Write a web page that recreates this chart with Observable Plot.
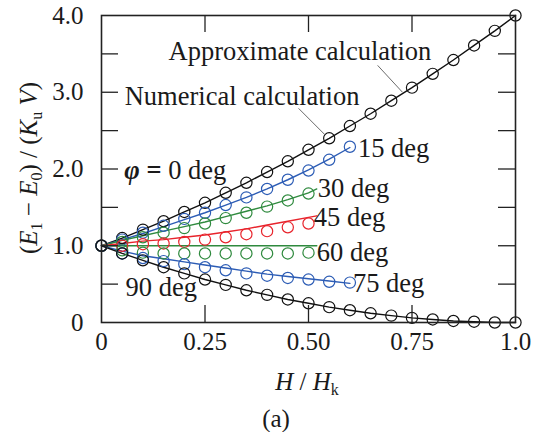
<!DOCTYPE html>
<html><head><meta charset="utf-8">
<script src="https://cdn.jsdelivr.net/npm/d3@7"></script>
<script src="https://cdn.jsdelivr.net/npm/@observablehq/plot@0.6"></script>
<style>body{margin:0;background:#fff} svg text, svg tspan {font-family: "Liberation Serif", "Times New Roman", Times, Tinos, "Nimbus Roman", "Nimbus Roman No9 L", "Noto Serif", "DejaVu Serif", FreeSerif, Georgia, serif;}</style>
</head><body><div id="chart"></div>
<script>
// ---- field values H/Hk ----
const hFull = [0,0.05,0.1,0.15,0.2,0.25,0.3,0.35,0.4,0.45,0.5,0.55,0.6,0.65,0.7,0.75,0.8,0.85,0.9,0.95,1.0];
const hTo060 = [0,0.05,0.1,0.15,0.2,0.25,0.3,0.35,0.4,0.45,0.5,0.55,0.6];
const hTo050 = [0,0.05,0.1,0.15,0.2,0.25,0.3,0.35,0.4,0.45,0.5];
const hLineTo052 = [0,0.05,0.1,0.15,0.2,0.25,0.3,0.35,0.4,0.45,0.5,0.52];

// ---- numerical calculation (circles) ----
const num0  = [1.00,1.10,1.21,1.32,1.44,1.56,1.69,1.82,1.96,2.10,2.25,2.40,2.56,2.72,2.89,3.06,3.24,3.42,3.61,3.80,4.00];
const num15 = [1.00,1.08,1.17,1.26,1.35,1.43,1.53,1.63,1.74,1.86,1.98,2.12,2.29];
const num30 = [1.00,1.05,1.11,1.17,1.23,1.29,1.36,1.43,1.51,1.59,1.68];
const num45 = [1.00,1.00,1.02,1.03,1.05,1.08,1.11,1.15,1.19,1.24,1.29];
const num60 = [1.00,0.94,0.91,0.90,0.90,0.90,0.90,0.90,0.90,0.90,0.91];
const num75 = [1.00,0.90,0.84,0.80,0.76,0.72,0.68,0.64,0.61,0.58,0.56,0.53,0.52];
const num90 = [1.00,0.90,0.81,0.72,0.64,0.56,0.49,0.42,0.36,0.30,0.25,0.20,0.16,0.12,0.09,0.06,0.04,0.02,0.01,0.00,0.00];

// ---- approximate calculation (lines) ----
const apx0  = [1.00,1.10,1.21,1.32,1.44,1.56,1.69,1.82,1.96,2.10,2.25,2.40,2.56,2.72,2.89,3.06,3.24,3.42,3.61,3.80,4.00];
const apx15 = [1.00,1.08,1.16,1.25,1.34,1.43,1.53,1.63,1.74,1.86,1.99,2.13,2.28];
const apx30 = [1.00,1.07,1.13,1.19,1.25,1.31,1.38,1.45,1.52,1.60,1.69,1.74];
const apx45 = [1.00,1.03,1.06,1.08,1.11,1.14,1.18,1.22,1.27,1.32,1.37,1.39];
const apx60 = [1.00,1.00,1.00,1.00,1.00,1.00,1.00,1.00,1.00,1.00,1.00,1.00];
const apx75 = [1.00,0.93,0.87,0.83,0.79,0.75,0.71,0.67,0.63,0.60,0.57,0.54,0.51];
const apx90 = [1.00,0.90,0.81,0.72,0.64,0.56,0.49,0.42,0.36,0.30,0.25,0.20,0.16,0.12,0.09,0.06,0.04,0.02,0.01,0.00,0.00];

// ---- ticks ----
const xTicks = [0,0.25,0.5,0.75,1.0];
const xTickLabels = ["0","0.25","0.50","0.75","1.0"];
const yTicks = [0,1,2,3,4];
const yTickLabels = ["0","1.0","2.0","3.0","4.0"];
const xTickMarks = [0.25,0.5,0.75];
const yTickMarks = [0.5,1,1.5,2,2.5,3,3.5];

const BLACK = "#111", BLUE = "#2c5cb5", GREEN = "#2f8a3e", RED = "#e8242c";

const series = [
  {name:"0",  color:BLACK, hn:hFull,  num:num0,  ha:hFull,      apx:apx0},
  {name:"15", color:BLUE,  hn:hTo060, num:num15, ha:hTo060,     apx:apx15},
  {name:"30", color:GREEN, hn:hTo050, num:num30, ha:hLineTo052, apx:apx30},
  {name:"45", color:RED,   hn:hTo050, num:num45, ha:hLineTo052, apx:apx45},
  {name:"60", color:GREEN, hn:hTo050, num:num60, ha:hLineTo052, apx:apx60},
  {name:"75", color:BLUE,  hn:hTo060, num:num75, ha:hTo060,     apx:apx75},
  {name:"90", color:BLACK, hn:hFull,  num:num90, ha:hFull,      apx:apx90}
];
const pts = series.flatMap(s => s.num.map((E,i)=>({h:s.hn[i], E, s:s.name, c:s.color})));
const lns = series.flatMap(s => s.apx.map((E,i)=>({h:s.ha[i], E, s:s.name, c:s.color})));
const last = (hs, es) => ({h: hs[hs.length-1], E: es[es.length-1]});

const FS = 25, FA = 26.5;
const PW = 414, PH = 307, TL = 17;

const chart = Plot.plot({
  width: 539, height: 432,
  marginLeft: 101, marginRight: 24, marginTop: 15, marginBottom: 110,
  style: {fontSize: FS + "px", color: "#1a1a1a", background: "#fff"},
  x: {domain: [0,1]},
  y: {domain: [0,4]},
  marks: [
    Plot.line(lns, {x:"h", y:"E", z:"s", stroke:"c", strokeWidth:1.4}),
    Plot.dot(pts, {x:"h", y:"E", stroke:"c", r:5.6, fill:"none", strokeWidth:1.2}),
    Plot.tickX(xTickMarks, {x:d=>d, insetTop: PH-TL, stroke:"#222", strokeWidth:1.3}),
    Plot.tickX(xTickMarks, {x:d=>d, insetBottom: PH-TL, stroke:"#222", strokeWidth:1.3}),
    Plot.tickY(yTickMarks, {y:d=>d, insetRight: PW-TL, stroke:"#222", strokeWidth:1.3}),
    Plot.tickY(yTickMarks, {y:d=>d, insetLeft: PW-TL, stroke:"#222", strokeWidth:1.3}),
    Plot.frame({stroke:"#222", strokeWidth:1.6}),
    Plot.axisX({ticks:xTicks, tickSize:0, tickPadding:10, fontSize:FS, label:null,
      tickFormat: d => xTickLabels[xTicks.indexOf(d)]}),
    Plot.axisY({ticks:yTicks, tickSize:0, tickPadding:18, fontSize:FS, label:null,
      tickFormat: d => yTickLabels[yTicks.indexOf(d)]}),
    Plot.text([last(hTo060, num15)], {x:"h", y:"E", text:()=>"15 deg", textAnchor:"start", dx:8, dy:2, fontSize:FA}),
    Plot.text([last(hLineTo052, apx30)], {x:"h", y:"E", text:()=>"30 deg", textAnchor:"start", dx:1, dy:0, fontSize:FA}),
    Plot.text([last(hLineTo052, apx45)], {x:"h", y:"E", text:()=>"45 deg", textAnchor:"start", dx:-3, dy:2, fontSize:FA}),
    Plot.text([last(hLineTo052, apx60)], {x:"h", y:"E", text:()=>"60 deg", textAnchor:"start", dx:0, dy:7, fontSize:FA}),
    Plot.text([last(hTo060, num75)], {x:"h", y:"E", text:()=>"75 deg", textAnchor:"start", dx:3, dy:1, fontSize:FA}),
    Plot.text(["φ = 0 deg"], {x:0.055, y:1.98, text:d=>d, textAnchor:"start", fontSize:FA}),
    Plot.text(["90 deg"], {x:0.058, y:0.46, text:d=>d, textAnchor:"start", fontSize:FA}),
    Plot.text(["Approximate calculation"], {x:0.162, y:3.53, text:d=>d, textAnchor:"start", fontSize:FA}),
    Plot.text(["Numerical calculation"], {x:0.056, y:2.94, text:d=>d, textAnchor:"start", fontSize:FA}),
    Plot.link([{x1:0.667, y1:3.35, x2:0.727, y2:3.0}], {x1:"x1", y1:"y1", x2:"x2", y2:"y2", stroke:"#444", strokeWidth:0.8}),
    Plot.link([{x1:0.476, y1:2.79, x2:0.539, y2:2.45}], {x1:"x1", y1:"y1", x2:"x2", y2:"y2", stroke:"#444", strokeWidth:0.8})
  ]
});
document.getElementById("chart").appendChild(chart);

const svg = d3.select(chart);
svg.selectAll("text").filter(function(){ return this.textContent === "φ = 0 deg"; }).each(function(){
  const t = d3.select(this); t.text("");
  t.append("tspan").attr("font-weight","bold").attr("font-style","italic").text("φ");
  t.append("tspan").attr("font-weight","bold").text(" = ");
  t.append("tspan").text("0 deg");
});

const yl = svg.append("text").attr("transform","translate(37,168) rotate(-90)")
  .attr("text-anchor","middle").attr("font-size",FS).attr("fill","#1a1a1a");
yl.append("tspan").text("(");
yl.append("tspan").attr("font-style","italic").text("E");
yl.append("tspan").attr("font-size",16).attr("dy",5).text("1");
yl.append("tspan").attr("dy",-5).text(" − ");
yl.append("tspan").attr("font-style","italic").text("E");
yl.append("tspan").attr("font-size",16).attr("dy",5).text("0");
yl.append("tspan").attr("dy",-5).text(") / (");
yl.append("tspan").attr("font-style","italic").text("K");
yl.append("tspan").attr("font-size",16).attr("dy",5).text("u");
yl.append("tspan").attr("dy",-5).attr("font-style","italic").text(" V");
yl.append("tspan").text(")");

const xl = svg.append("text").attr("x",307).attr("y",390)
  .attr("text-anchor","middle").attr("font-size",FS).attr("fill","#1a1a1a");
xl.append("tspan").attr("font-style","italic").text("H");
xl.append("tspan").text(" / ");
xl.append("tspan").attr("font-style","italic").text("H");
xl.append("tspan").attr("font-size",16).attr("dy",5).text("k");

svg.append("text").attr("x",276).attr("y",427).attr("text-anchor","middle")
  .attr("font-size",FS).attr("fill","#1a1a1a").text("(a)");
</script>
</body></html>
